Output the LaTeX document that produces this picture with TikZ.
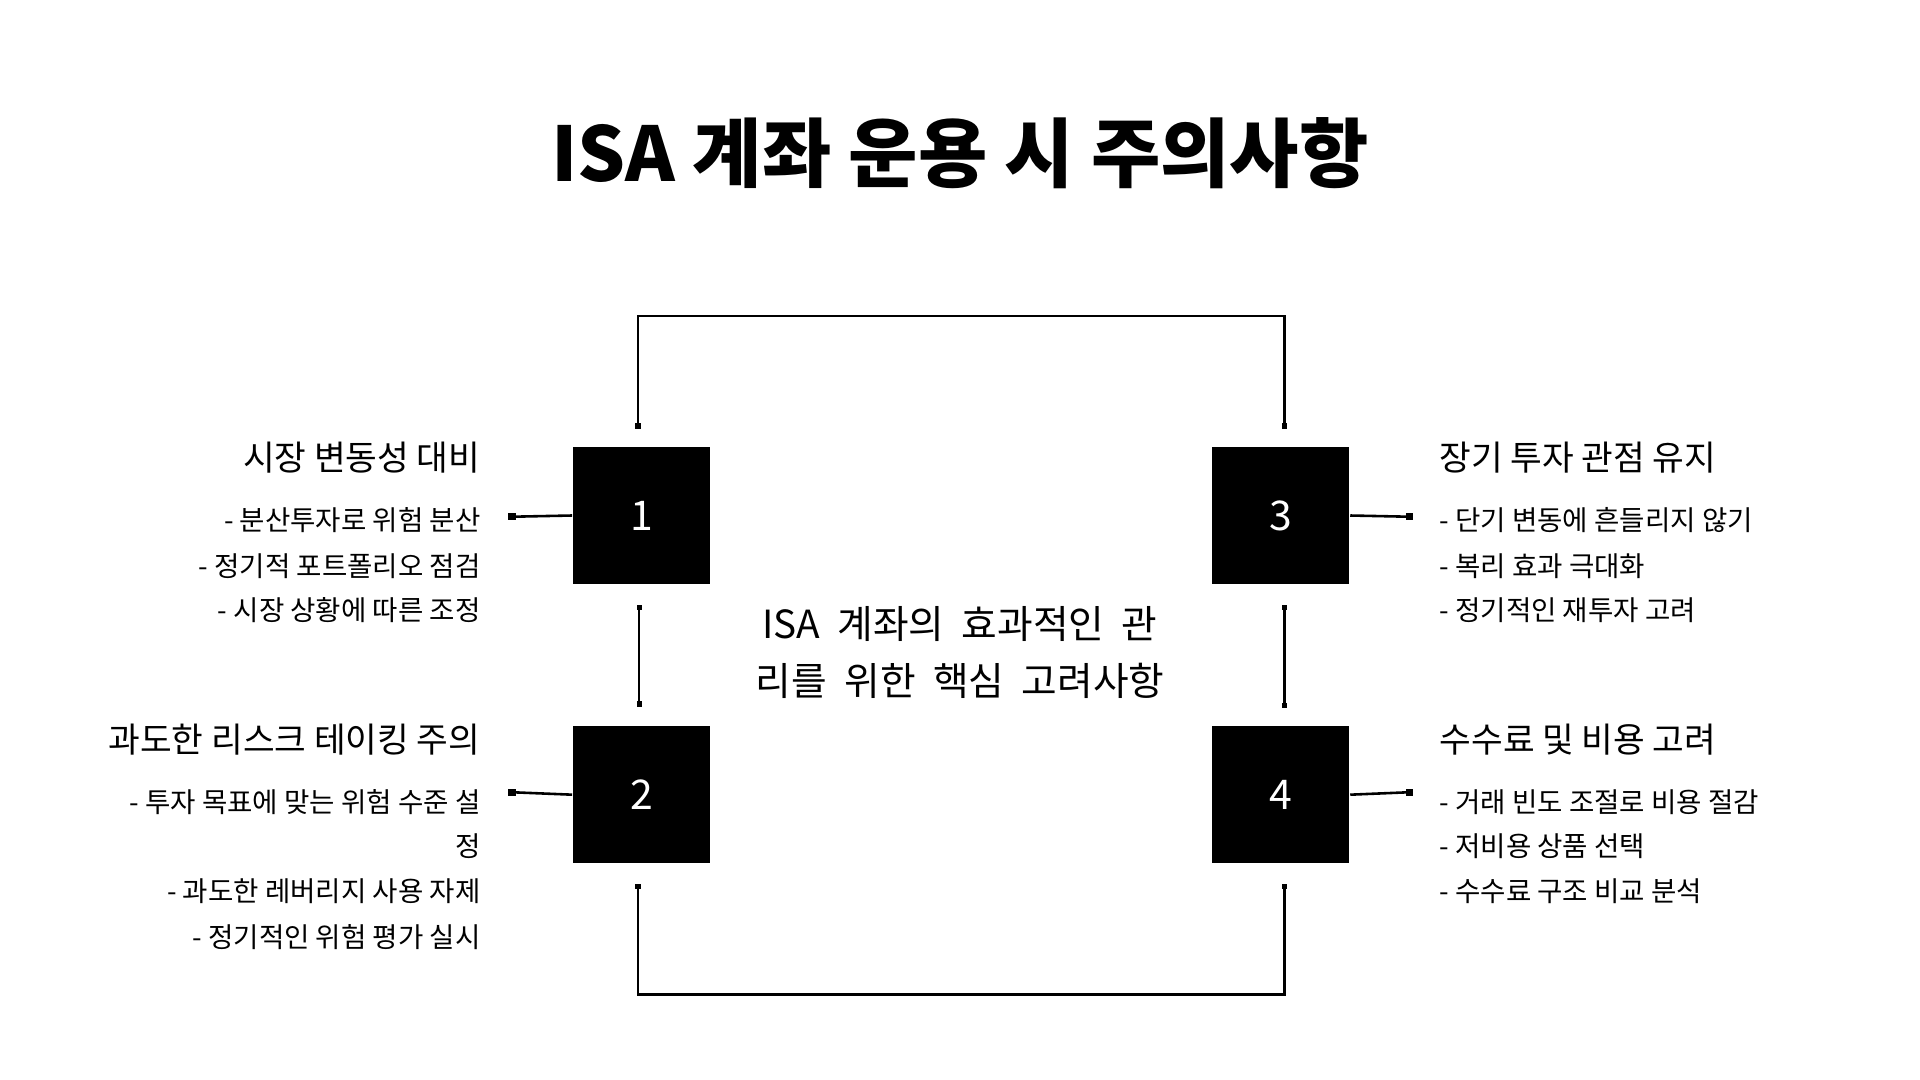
\documentclass[tikz,border=0pt]{standalone}
\usepackage{fontspec}
\usetikzlibrary{arrows.meta}
\newfontfamily\kr{Noto Sans CJK KR}
\begin{document}
\begin{tikzpicture}[x=0.01cm,y=-0.01cm,
  numbox/.style={fill=black,minimum width=112*0.01cm,minimum height=112*0.01cm,inner sep=0pt,text=white,font=\kr\fontsize{9.5}{11}\selectfont},
  conn/.style={line width=0.6pt,{Square[length=1.2pt,width=1.2pt]}-{Square[length=1.2pt,width=1.2pt]}},
  head/.style={font=\kr\fontsize{8}{10}\selectfont,inner sep=0pt},
  item/.style={font=\kr\fontsize{6.4}{10.5}\selectfont,inner sep=0pt}]
\useasboundingbox (0,0) rectangle (1568,882);
\node[font=\kr\bfseries\fontsize{17.5}{20}\selectfont] (title) at (784,125) {ISA 계좌 운용 시 주의사항};
\node[numbox] (b1) at (524,421) {1};
\node[numbox] (b2) at (524,649) {2};
\node[numbox] (b3) at (1046,421) {3};
\node[numbox] (b4) at (1046,649) {4};
\node[font=\kr\fontsize{9}{13.2}\selectfont,align=center] (c) at (784,533) {ISA\ \ 계좌의\ \ 효과적인\ \ 관\\리를\ \ 위한\ \ 핵심\ \ 고려사항};
\coordinate (t1) at (521,350); \coordinate (t3) at (1049,350);
\draw[conn] (t1) -- (521,258) -- (1049,258) -- (t3);
\coordinate (u1) at (521,722); \coordinate (u4) at (1049,722);
\draw[conn] (u1) -- (521,812) -- (1049,812) -- (u4);
\coordinate (m1) at (522,494); \coordinate (m2) at (522,577);
\draw[conn] (m1) -- (m2);
\coordinate (m3) at (1049,494); \coordinate (m4) at (1049,578);
\draw[conn] (m3) -- (m4);
\coordinate (l1) at (418,422); \coordinate (l2) at (418,647);
\coordinate (r3) at (1151,422); \coordinate (r4) at (1151,647);
\draw[conn,-] (l1) -- (b1.west); \draw[conn,-] (l2) -- (b2.west);
\draw[conn,-] (r3) -- (b3.east); \draw[conn,-] (r4) -- (b4.east);
\fill (l1) +(-3,-3) rectangle +(3,3);
\fill (l2) +(-3,-3) rectangle +(3,3);
\fill (r3) +(-3,-3) rectangle +(3,3);
\fill (r4) +(-3,-3) rectangle +(3,3);
% left texts
\node[head,anchor=east] (h1) at (393,374) {시장 변동성 대비};
\node[item,anchor=east] (i11) at (393,425) {- 분산투자로 위험 분산};
\node[item,anchor=east] (i12) at (393,462) {- 정기적 포트폴리오 점검};
\node[item,anchor=east] (i13) at (393,498) {- 시장 상황에 따른 조정};
\node[head,anchor=east] (h2) at (393,604) {과도한 리스크 테이킹 주의};
\node[item,anchor=east] (i21) at (393,655) {- 투자 목표에 맞는 위험 수준 설};
\node[item,anchor=east] (i21b) at (393,691) {정};
\node[item,anchor=east] (i22) at (393,728) {- 과도한 레버리지 사용 자제};
\node[item,anchor=east] (i23) at (393,765) {- 정기적인 위험 평가 실시};
% right texts
\node[head,anchor=west] (h3) at (1175,374) {장기 투자 관점 유지};
\node[item,anchor=west] (i31) at (1175,425) {- 단기 변동에 흔들리지 않기};
\node[item,anchor=west] (i32) at (1175,462) {- 복리 효과 극대화};
\node[item,anchor=west] (i33) at (1175,498) {- 정기적인 재투자 고려};
\node[head,anchor=west] (h4) at (1175,604) {수수료 및 비용 고려};
\node[item,anchor=west] (i41) at (1175,655) {- 거래 빈도 조절로 비용 절감};
\node[item,anchor=west] (i42) at (1175,691) {- 저비용 상품 선택};
\node[item,anchor=west] (i43) at (1175,728) {- 수수료 구조 비교 분석};
\end{tikzpicture}
\end{document}
